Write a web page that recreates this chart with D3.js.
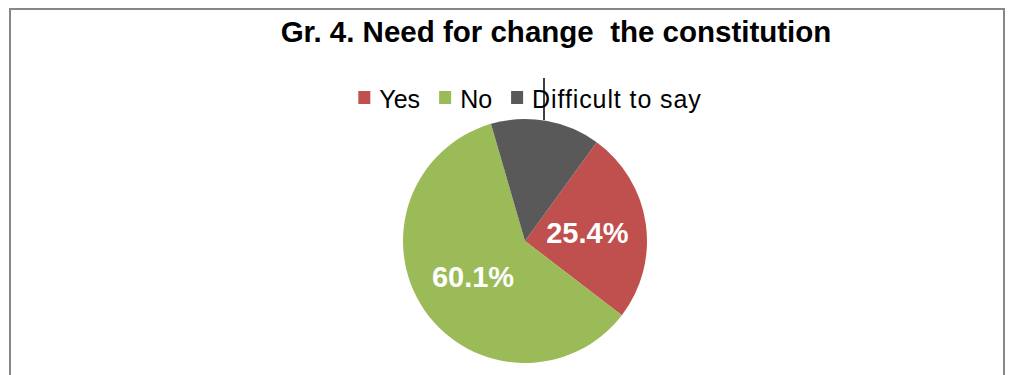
<!DOCTYPE html>
<html>
<head>
<meta charset="utf-8">
<script src="https://cdn.jsdelivr.net/npm/d3@7"></script>
<style>
  html, body { margin: 0; padding: 0; background: #fff; }
  svg { display: block; font-family: "Liberation Sans", Arial, sans-serif; }
</style>
</head>
<body>
<svg id="chart" width="1011" height="375"></svg>
<script>
// Survey answers: share of respondents (%)
const categories = ["Yes", "No", "Difficult to say"];
const shares = [25.4, 60.1, 14.5];
const showLabel = [true, true, false];
const colors = ["#C0504D", "#9BBB59", "#595959"];
const title = "Gr. 4. Need for change  the constitution";

const svg = d3.select("#chart");
const W = 1011, H = 375;

// chart frame (open at the bottom, cut by the page edge)
svg.append("path")
  .attr("d", `M10,${H + 5} L10,9 L1004,9 L1004,${H + 5}`)
  .attr("fill", "none")
  .attr("stroke", "#878787")
  .attr("stroke-width", 2);

// title
svg.append("text")
  .attr("x", 556)
  .attr("y", 42)
  .attr("text-anchor", "middle")
  .style("white-space", "pre")
  .attr("font-size", 29.5)
  .attr("font-weight", "bold")
  .attr("fill", "#000")
  .text(title);

// legend
const legend = svg.append("g").attr("class", "legend");
const legendFont = 25, box = 12, boxGap = 9, itemGap = 19;
const items = legend.selectAll("g").data(categories).join("g");
items.append("rect")
  .attr("width", box).attr("height", 13)
  .attr("y", 91)
  .attr("fill", (d, i) => colors[i]);
items.append("text")
  .attr("y", 108)
  .attr("font-size", legendFont)
  .attr("letter-spacing", (d, i) => i === 2 ? "0.9px" : null)
  .attr("fill", "#000")
  .text(d => d);
// lay out items horizontally from measured text widths
let widths = [];
items.select("text").each(function () { widths.push(this.getComputedTextLength()); });
const total = d3.sum(widths) + categories.length * (box + boxGap) + (categories.length - 1) * itemGap;
let x0 = 530 - total / 2;
items.each(function (d, i) {
  const g = d3.select(this);
  g.select("rect").attr("x", x0);
  g.select("text").attr("x", x0 + box + boxGap);
  x0 += box + boxGap + widths[i] + itemGap;
});

// pie
const cx = 525, cy = 241, R = 122;
const start = 36 * Math.PI / 180;
const pie = d3.pie().sort(null).value(d => d).startAngle(start).endAngle(start + 2 * Math.PI);
const arcs = pie(shares);
const arc = d3.arc().innerRadius(0).outerRadius(R);
const labelArc = d3.arc().innerRadius(63).outerRadius(63);

const pg = svg.append("g").attr("transform", `translate(${cx},${cy})`);
pg.selectAll("path.slice").data(arcs).join("path")
  .attr("class", "slice")
  .attr("d", arc)
  .attr("fill", (d, i) => colors[i]);

pg.selectAll("text.val").data(arcs.filter((d, i) => showLabel[i])).join("text")
  .attr("class", "val")
  .attr("transform", d => `translate(${labelArc.centroid(d)})`)
  .attr("text-anchor", "middle")
  .attr("dy", "0.37em")
  .attr("font-size", 29)
  .attr("font-weight", "bold")
  .attr("fill", "#fff")
  .text(d => d.data.toFixed(1) + "%");

// thin vertical marker above the pie
svg.append("line")
  .attr("x1", 544).attr("x2", 544)
  .attr("y1", 78).attr("y2", 120)
  .attr("stroke", "#000")
  .attr("stroke-width", 1.5);
</script>
</body>
</html>
